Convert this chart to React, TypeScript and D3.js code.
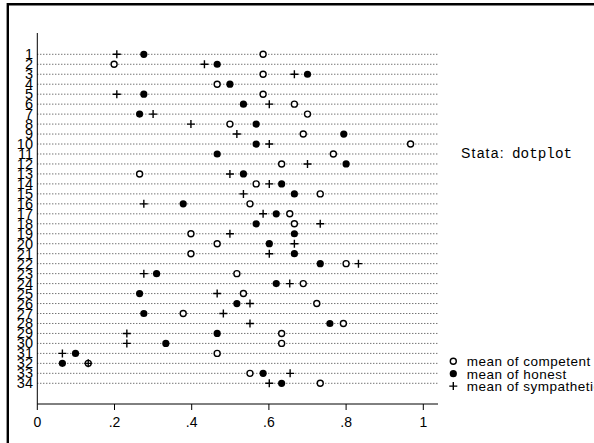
import React from 'react';
import * as d3 from 'd3';

// rows 1..34
const rows = d3.range(1, 35);

// mean of competent (hollow circle)
const competent = [0.585, 0.199, 0.585, 0.466, 0.585, 0.666, 0.70, 0.499, 0.689, 0.967,
  0.767, 0.633, 0.265, 0.567, 0.733, 0.551, 0.654, 0.666, 0.398, 0.466,
  0.398, 0.80, 0.517, 0.689, 0.534, 0.724, 0.378, 0.793, 0.633, 0.633,
  0.466, 0.132, 0.551, 0.733];

// mean of honest (filled circle)
const honest = [0.276, 0.466, 0.70, 0.499, 0.276, 0.534, 0.265, 0.567, 0.794, 0.567,
  0.466, 0.80, 0.534, 0.633, 0.666, 0.378, 0.619, 0.567, 0.666, 0.601,
  0.666, 0.733, 0.309, 0.619, 0.265, 0.517, 0.276, 0.758, 0.466, 0.333,
  0.099, 0.065, 0.585, 0.633];

// mean of sympathetic (plus)
const sympathetic = [0.206, 0.433, 0.666, null, 0.206, 0.601, 0.30, 0.398, 0.517, 0.601,
  null, 0.70, 0.499, 0.601, 0.534, 0.276, 0.585, 0.733, 0.499, 0.666,
  0.601, 0.832, 0.276, 0.654, 0.466, 0.551, 0.482, 0.551, 0.232, 0.232,
  0.065, 0.132, 0.655, 0.601];

const xTicks = [0, 0.2, 0.4, 0.6, 0.8, 1];
const legendLabels = ['mean of competent', 'mean of honest', 'mean of sympathetic'];

const sans = '"Liberation Sans", Arial, Helvetica, sans-serif';

function Hollow({ x, y }: { x: number; y: number }) {
  return <circle cx={x} cy={y} r={3} fill="white" stroke="black" strokeWidth={1.4} />;
}
function Filled({ x, y }: { x: number; y: number }) {
  return <circle cx={x} cy={y} r={3.6} fill="black" />;
}
function Plus({ x, y }: { x: number; y: number }) {
  return <path d={`M${x - 4},${y}H${x + 4}M${x},${y - 4}V${y + 4}`} stroke="black" strokeWidth={1.4} fill="none" />;
}

export default function App() {
  const W = 594, H = 443;
  const x = d3.scaleLinear().domain([0, 1]).range([37.3, 423.3]);
  const y = d3.scaleLinear().domain([1, 34]).range([54.3, 383.3]);
  const axisY = 404;
  const left = 37.3, right = 438;
  const fmt = (v: number) => (v === 0 ? '0' : v === 1 ? '1' : d3.format('.1f')(v).replace(/^0/, ''));

  return (
    <svg width={W} height={H} style={{ position: 'absolute', left: 0, top: 0, background: 'white' }}>
      <rect x={0} y={0} width={W} height={H} fill="white" />
      {/* frame top / left */}
      <path d={`M7.8,${H}V4.3H${W}`} fill="none" stroke="black" strokeWidth={2.4} />

      {/* dotted row lines */}
      {rows.map(r => (
        <line key={'l' + r} x1={left} x2={right} y1={y(r)} y2={y(r)} stroke="#222" strokeWidth={0.9} strokeDasharray="1,2" />
      ))}

      {/* axes */}
      <line x1={left} x2={left} y1={33} y2={axisY} stroke="black" strokeWidth={1} />
      <line x1={left} x2={right} y1={axisY} y2={axisY} stroke="black" strokeWidth={1} />
      {xTicks.map(t => (
        <g key={'t' + t}>
          <line x1={x(t)} x2={x(t)} y1={axisY} y2={axisY + 6} stroke="black" />
          <text x={x(t)} y={axisY + 23} textAnchor="middle" fontFamily={sans} fontSize={14}>{fmt(t)}</text>
        </g>
      ))}

      {/* row labels */}
      {rows.map(r => (
        <text key={'y' + r} x={33} y={y(r) + 5} textAnchor="end" fontFamily={sans} fontSize={14.5}>{r}</text>
      ))}

      {/* markers */}
      {rows.map((r, i) => (
        <g key={'m' + r}>
          <Hollow x={x(competent[i])} y={y(r)} />
          <Filled x={x(honest[i])} y={y(r)} />
          {sympathetic[i] != null && <Plus x={x(sympathetic[i] as number)} y={y(r)} />}
        </g>
      ))}

      {/* note */}
      <text x={461} y={158} fontFamily={sans} fontSize={14} letterSpacing={1.2}>Stata:</text>
      <text x={512} y={158} fontFamily='"Liberation Mono", "Courier New", monospace' fontSize={14.3}>dotplot</text>

      {/* legend */}
      {legendLabels.map((lab, i) => {
        const ly = 361.3 + i * 12.4;
        return (
          <g key={lab}>
            {i === 0 && <Hollow x={453.3} y={ly} />}
            {i === 1 && <Filled x={453.3} y={ly} />}
            {i === 2 && <Plus x={453.3} y={ly} />}
            <text x={466.7} y={ly + 5} fontFamily={sans} fontSize={13.5} letterSpacing={0.5}>{lab}</text>
          </g>
        );
      })}
    </svg>
  );
}
